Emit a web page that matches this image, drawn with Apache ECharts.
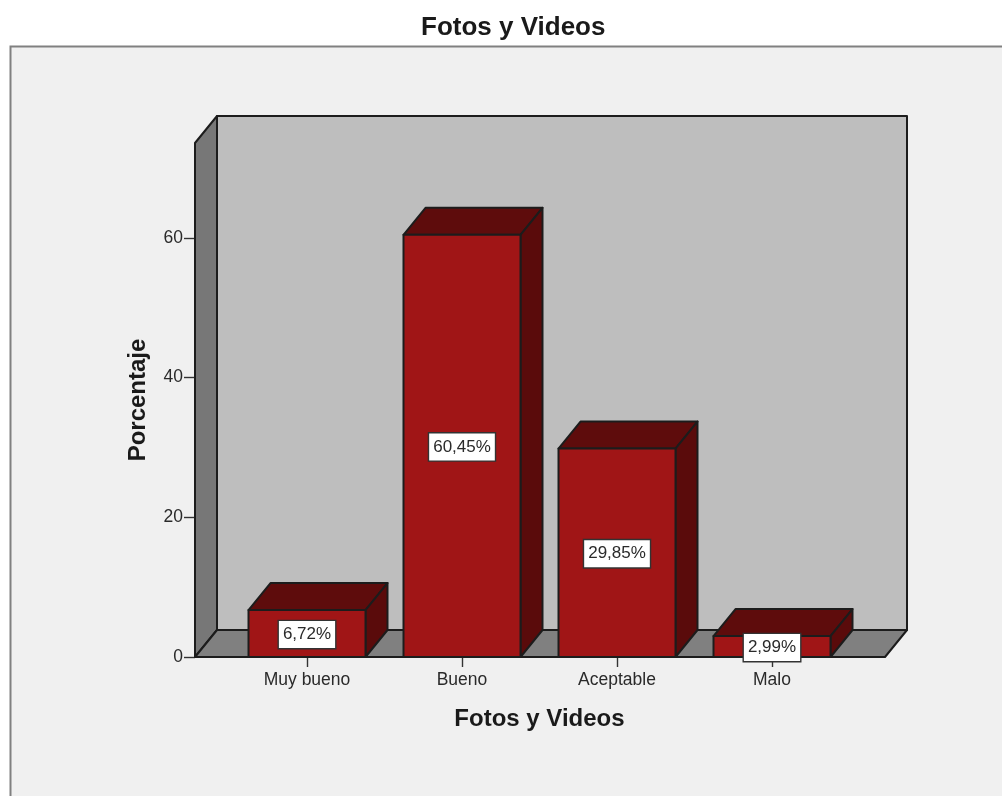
<!DOCTYPE html>
<html>
<head>
<meta charset="utf-8">
<style>html,body{margin:0;padding:0;background:#fff}#chart{width:1002px;height:796px}</style>
<script src="https://cdn.jsdelivr.net/npm/echarts@6/dist/echarts.min.js"></script>
</head>
<body>
<div id="chart"></div>
<script>
const chartTitle = 'Fotos y Videos';
const xAxisTitle = 'Fotos y Videos';
const yAxisTitle = 'Porcentaje';
const categories = ['Muy bueno', 'Bueno', 'Aceptable', 'Malo'];
const percentages = [6.72, 60.45, 29.85, 2.99];
const yTicks = [0, 20, 40, 60];
const yTop = 73.6;

const FONT = '"Liberation Sans", Arial, sans-serif';
const INK = '#1c1c1c';
const TEXT = '#2a2a2a';
const DX = 22, DY = -27;         // depth vector of the 3D projection
const AXIS_PAD_L = 34.5, AXIS_PAD_R = 35.5;  // plot box beyond the category bands
const BAR_W = 117;

const edge = { stroke: INK, lineWidth: 2, lineJoin: 'round' };
const poly = (points, fill) => ({
  type: 'polygon', shape: { points }, style: Object.assign({ fill }, edge)
});

// Back wall, left wall and floor of the plot box.
function renderBox(params, api) {
  const cs = params.coordSys;
  const l = cs.x - AXIS_PAD_L, r = cs.x + cs.width + AXIS_PAD_R;
  const t = cs.y, b = cs.y + cs.height;
  return {
    type: 'group',
    children: [
      poly([[l + DX, t + DY], [r + DX, t + DY], [r + DX, b + DY], [l + DX, b + DY]], '#bebebe'),
      poly([[l, t], [l + DX, t + DY], [l + DX, b + DY], [l, b]], '#777777'),
      poly([[l, b], [l + DX, b + DY], [r + DX, b + DY], [r, b]], '#808080')
    ]
  };
}

// One extruded bar: front, top and side faces.
function renderBar(params, api) {
  const top = api.coord([api.value(0), api.value(1)]);
  const base = api.coord([api.value(0), 0]);
  const l = top[0] - BAR_W / 2, r = top[0] + BAR_W / 2, t = top[1], b = base[1];
  return {
    type: 'group',
    children: [
      poly([[l, t], [l + DX, t + DY], [r + DX, t + DY], [r, t]], '#5e0c0c'),
      poly([[r, t], [r + DX, t + DY], [r + DX, b + DY], [r, b]], '#5a0b0b'),
      poly([[l, t], [r, t], [r, b], [l, b]], '#a01516')
    ]
  };
}

// White value tag centred on the bar's front face.
function renderTag(params, api) {
  const v = api.value(1);
  const c = api.coord([api.value(0), v / 2]);
  return {
    type: 'text',
    x: c[0], y: c[1] + 1,
    style: {
      text: v.toFixed(2).replace('.', ',') + '%',
      fontFamily: FONT, fontSize: 17, fill: TEXT,
      align: 'center', verticalAlign: 'middle',
      backgroundColor: '#fff', borderColor: '#333', borderWidth: 1.4,
      padding: [5, 4, 5, 4]
    }
  };
}

const barData = categories.map((c, i) => [i, percentages[i]]);

const chart = echarts.init(document.getElementById('chart'), null, { renderer: 'canvas' });
chart.setOption({
  animation: false,
  backgroundColor: '#ffffff',
  title: {
    text: chartTitle, left: 416, top: 10,
    textStyle: { fontFamily: FONT, fontSize: 26, fontWeight: 'bold', color: '#1a1a1a' }
  },
  graphic: [{
    type: 'rect', z: -10, silent: true,
    shape: { x: 10.5, y: 46.5, width: 1100, height: 900 },
    style: { fill: '#f0f0f0', stroke: '#808080', lineWidth: 2 }
  }],
  grid: { left: 229.5, top: 143, width: 620, height: 514, containLabel: false },
  xAxis: {
    type: 'category', data: categories,
    name: xAxisTitle, nameLocation: 'middle', nameGap: 50,
    nameTextStyle: { fontFamily: FONT, fontSize: 24, fontWeight: 'bold', color: '#1a1a1a' },
    axisLine: { show: false },
    axisTick: { show: true, alignWithLabel: true, length: 10, lineStyle: { color: '#333', width: 1.4 } },
    axisLabel: { fontFamily: FONT, fontSize: 17.5, color: TEXT, margin: 14 }
  },
  yAxis: {
    type: 'value', min: 0, max: yTop, offset: AXIS_PAD_L,
    name: yAxisTitle, nameLocation: 'middle', nameGap: 45,
    nameTextStyle: { fontFamily: FONT, fontSize: 24, fontWeight: 'bold', color: '#1a1a1a' },
    splitLine: { show: false },
    axisLine: { show: false },
    axisTick: { show: true, length: 11, lineStyle: { color: '#333', width: 1.4 }, customValues: yTicks },
    axisLabel: { fontFamily: FONT, fontSize: 17.5, color: TEXT, margin: 12, customValues: yTicks }
  },
  series: [
    { type: 'custom', z: 1, renderItem: renderBox, data: [[0, 0]], silent: true },
    { type: 'custom', z: 2, renderItem: renderBar, data: barData, encode: { x: 0, y: 1 } },
    { type: 'custom', z: 3, renderItem: renderTag, data: barData, encode: { x: 0, y: 1 } }
  ]
});
</script>
</body>
</html>
